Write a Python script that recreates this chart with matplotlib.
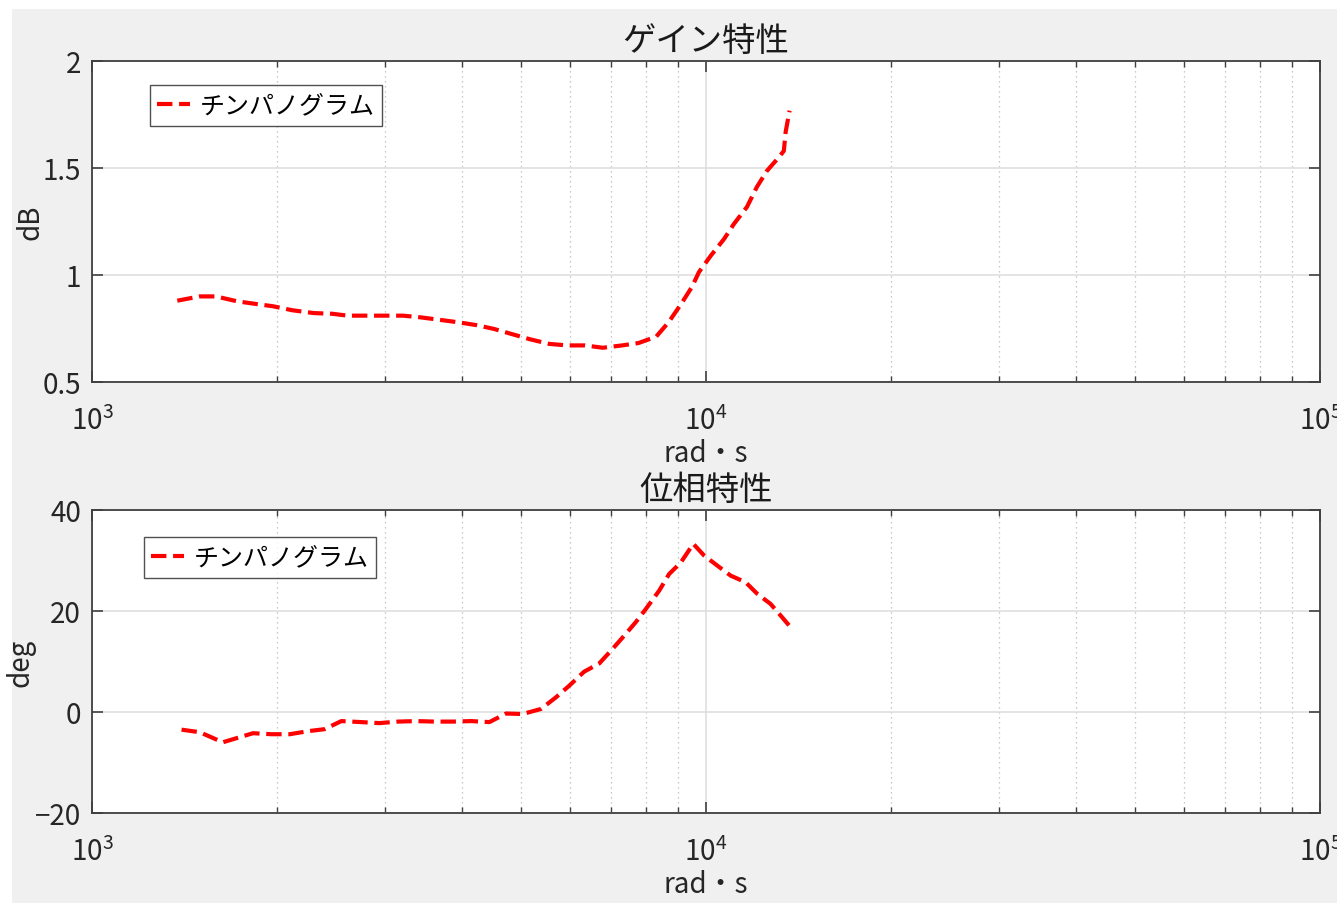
import matplotlib
matplotlib.use("Agg")
import matplotlib.pyplot as plt
from matplotlib.patches import Rectangle
from matplotlib.ticker import LogLocator, FixedLocator, FixedFormatter, NullFormatter

plt.rcParams['font.family'] = ['Noto Sans CJK JP', 'DejaVu Sans']
plt.rcParams['mathtext.fontset'] = 'custom'
plt.rcParams['mathtext.rm'] = 'Noto Sans CJK JP'

# ゲイン特性 (rad/s, dB)
gain_w = [1377, 1498, 1591, 1724, 1856, 1971, 2122, 2299, 2458, 2610,
          2963, 3211, 3432, 3695, 3950, 4224, 4515, 4828, 5163, 5556,
          5940, 6352, 6790, 7258, 7763, 8297, 8695, 9111, 9486, 9741,
          10180, 10700, 11100, 11660, 12100, 12570, 13150, 13390, 13480, 13680]
gain_db = [0.88, 0.90, 0.90, 0.877, 0.864, 0.854, 0.835, 0.822, 0.819, 0.81,
           0.81, 0.81, 0.802, 0.79, 0.779, 0.766, 0.748, 0.724, 0.70, 0.678,
           0.671, 0.671, 0.66, 0.67, 0.682, 0.712, 0.78, 0.865, 0.944, 1.014,
           1.09, 1.168, 1.238, 1.318, 1.411, 1.487, 1.551, 1.58, 1.668, 1.768]

# 位相特性 (rad/s, deg)
phase_w = [1399, 1498, 1633, 1829, 1960, 2099, 2247, 2392, 2547, 2745,
           2940, 3148, 3373, 3613, 3868, 4144, 4438, 4725, 5027, 5385,
           5696, 5987, 6334, 6699, 6998, 7357, 7686, 7980, 8387, 8706,
           9098, 9535, 9925, 10430, 10970, 11600, 12120, 12740, 13230, 13730]
phase_deg = [-3.5, -4.0, -6.0, -4.2, -4.4, -4.4, -3.8, -3.4, -1.8, -2.0,
             -2.2, -1.9, -1.8, -1.9, -1.9, -1.8, -2.0, -0.3, -0.4, 0.6,
             2.9, 5.2, 8.0, 9.6, 12.1, 15.1, 17.8, 20.4, 24.0, 27.3,
             29.6, 33.3, 31.0, 29.0, 27.0, 25.7, 23.4, 21.4, 19.1, 16.8]

x_ticks = [1e3, 1e4, 1e5]
x_labels = [r'$\mathregular{10^{3}}$', r'$\mathregular{10^{4}}$', r'$\mathregular{10^{5}}$']
gain_ticks = [0.5, 1, 1.5, 2]
gain_labels = ['0.5', '1', '1.5', '2']
phase_ticks = [-20, 0, 20, 40]
phase_labels = ['\u221220', '0', '20', '40']

legend_name = 'チンパノグラム'
frame_col = '#404040'
text_col = '#262626'

fig = plt.figure(figsize=(13.37, 9.04), dpi=100, facecolor='white')
fig.patches.append(Rectangle((12 / 1337, 0), 1 - 12 / 1337, 1 - 10 / 904,
                             transform=fig.transFigure, facecolor='#f0f0f0',
                             edgecolor='none', zorder=-10))


def style_axes(ax, yticks, ylabels, ylim):
    ax.set_xscale('log')
    ax.set_xlim(1e3, 1e5)
    ax.set_ylim(*ylim)
    ax.xaxis.set_major_locator(FixedLocator(x_ticks))
    ax.xaxis.set_major_formatter(FixedFormatter(x_labels))
    ax.xaxis.set_minor_locator(LogLocator(base=10, subs=range(2, 10)))
    ax.xaxis.set_minor_formatter(NullFormatter())
    ax.yaxis.set_major_locator(FixedLocator(yticks))
    ax.yaxis.set_major_formatter(FixedFormatter(ylabels))
    ax.grid(which='major', color='#dcdcdc', linestyle='-', linewidth=1.1)
    ax.grid(which='minor', axis='x', color='#b8b8b8', linestyle=(0, (1, 3)), linewidth=0.9)
    ax.set_axisbelow(True)
    ax.tick_params(which='both', direction='in', top=True, right=True,
                   color=frame_col, labelcolor=text_col)
    ax.tick_params(which='major', length=8, width=1.2, labelsize=20)
    ax.tick_params(which='minor', length=4, width=1.0)
    ax.tick_params(axis='x', which='major', pad=17)
    ax.tick_params(axis='y', which='major', pad=8)
    for s in ax.spines.values():
        s.set_color(frame_col)
        s.set_linewidth(1.3)


def add_legend(ax, anchor):
    leg = ax.legend(loc='upper left', bbox_to_anchor=anchor, fontsize=18,
                    frameon=True, fancybox=False, handlelength=1.3, borderpad=0.3,
                    handletextpad=0.4, borderaxespad=0)
    leg.get_frame().set_edgecolor(text_col)
    leg.get_frame().set_linewidth(1.0)
    return leg


ax1 = fig.add_axes([92 / 1337, 1 - 383 / 904, 1228 / 1337, 321 / 904])
ax1.plot(gain_w, gain_db, color='red', linestyle='--', linewidth=3.0, label=legend_name)
style_axes(ax1, gain_ticks, gain_labels, (0.5, 2))
ax1.set_title('ゲイン特性', fontsize=24, color='#1a1a1a', pad=8)
ax1.set_ylabel('dB', fontsize=20, color=text_col)
ax1.yaxis.set_label_coords(-0.038, 0.5)
ax1.set_xlabel('rad・s', fontsize=20, color=text_col, labelpad=2)
add_legend(ax1, (0.047, 0.925))

ax2 = fig.add_axes([92 / 1337, 1 - 814 / 904, 1228 / 1337, 303 / 904])
ax2.plot(phase_w, phase_deg, color='red', linestyle='--', linewidth=3.0, label=legend_name)
style_axes(ax2, phase_ticks, phase_labels, (-20, 40))
ax2.set_title('位相特性', fontsize=24, color='#1a1a1a', pad=8)
ax2.set_ylabel('deg', fontsize=20, color=text_col)
ax2.yaxis.set_label_coords(-0.046, 0.5)
ax2.set_xlabel('rad・s', fontsize=20, color=text_col, labelpad=2)
add_legend(ax2, (0.042, 0.91))

fig.savefig('out.png', dpi=100, facecolor=fig.get_facecolor())
